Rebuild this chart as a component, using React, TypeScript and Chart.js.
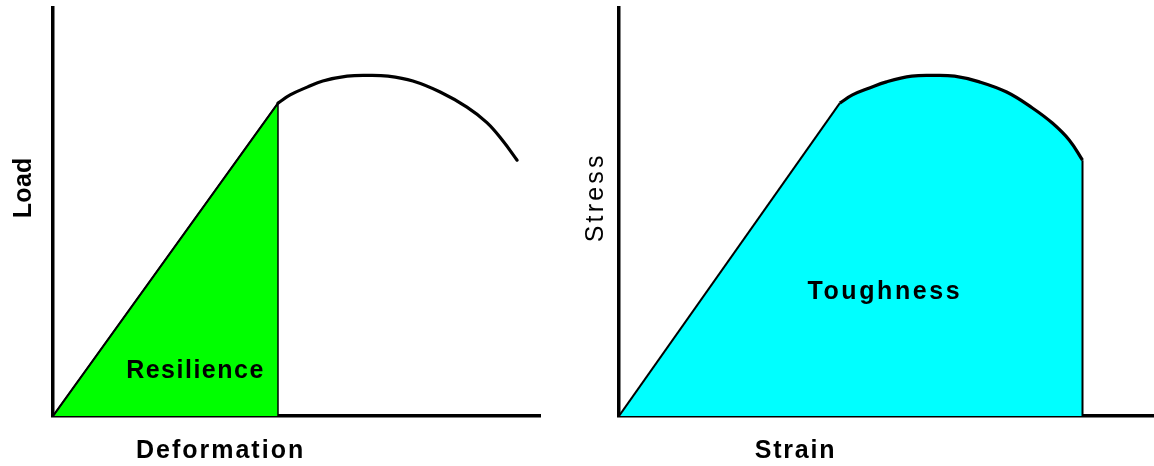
import React, { useEffect, useRef } from "react";
import { Chart, registerables } from "chart.js";

Chart.register(...registerables);

// ---- Data (arbitrary units) ----
// Left panel: load–deformation curve (elastic line up to yield, then plastic arc)
const deformation = [0, 46.2, 48.7, 52.2, 55.4, 60.4, 64.7, 68.8, 73.9, 79.5, 85.0, 89.1, 92.4, 95.3];
const load = [0, 76.7, 78.7, 80.6, 82.1, 83.3, 83.5, 83.3, 82.1, 79.4, 75.7, 71.9, 67.4, 62.7];

// Right panel: stress–strain curve (to fracture)
const strain = [0, 45.4, 48.0, 51.5, 55.0, 60.2, 64.5, 69.0, 74.1, 79.7, 85.0, 89.1, 92.6, 95.3];
const stress = [0, 76.7, 78.7, 80.4, 81.9, 83.3, 83.5, 83.3, 81.9, 79.4, 75.5, 71.8, 67.6, 62.7];

const yieldIndex = 1; // index of the end of the elastic (straight) part

// Axis ranges
const leftXMax = 100;
const rightXMax = 110;
const yMax = 100;

const FONT = '"Liberation Sans", Arial, Helvetica, sans-serif';

type Pt = { x: number; y: number };
const pts = (xs: number[], ys: number[]): Pt[] => xs.map((x, i) => ({ x, y: ys[i] }));

const textPlugin = {
  id: "panelText",
  afterDraw(chart: any, _args: any, opts: any) {
    const { ctx, chartArea, scales } = chart;
    const xs = scales.x;
    const ys = scales.y;
    for (const it of opts.items || []) {
      ctx.save();
      ctx.font = `${it.weight || "bold"} ${it.size || 25}px ${FONT}`;
      ctx.fillStyle = "#000";
      const sp = it.spacing || 0;
      (ctx as any).letterSpacing = `${sp}px`;
      const px = it.dx !== undefined ? chartArea.left + it.dx : xs.getPixelForValue(it.x);
      const py = it.dy !== undefined ? chartArea.bottom + it.dy : ys.getPixelForValue(it.y);
      const w = ctx.measureText(it.text).width - sp;
      ctx.translate(px, py);
      if (it.rotate) ctx.rotate(-Math.PI / 2);
      ctx.textAlign = "left";
      ctx.textBaseline = "alphabetic";
      ctx.fillText(it.text, -w / 2, it.rotate ? it.capShift : 0);
      ctx.restore();
    }
  },
};

function axisScales(xMax: number) {
  const border = { display: true, color: "#000", width: 3.5 };
  return {
    x: {
      type: "linear" as const,
      min: 0,
      max: xMax,
      grid: { display: false, drawTicks: false },
      ticks: { display: false },
      border,
      afterFit: (s: any) => {
        s.height = 0;
      },
    },
    y: {
      type: "linear" as const,
      min: 0,
      max: yMax,
      grid: { display: false, drawTicks: false },
      ticks: { display: false },
      border,
      afterFit: (s: any) => {
        s.width = 0;
      },
    },
  };
}

const lineBase = {
  pointRadius: 0,
  pointHoverRadius: 0,
  borderColor: "#000",
  fill: false,
  tension: 0,
};

export default function App() {
  const leftRef = useRef<HTMLCanvasElement>(null);
  const rightRef = useRef<HTMLCanvasElement>(null);

  useEffect(() => {
    const leftCurve = pts(deformation, load);
    const rightCurve = pts(strain, stress);
    const leftYield = leftCurve[yieldIndex];
    const rightEnd = rightCurve[rightCurve.length - 1];

    const left = new Chart(leftRef.current as HTMLCanvasElement, {
      type: "line",
      data: {
        datasets: [
          {
            ...lineBase,
            label: "Resilience",
            data: [leftCurve[0], leftYield, { x: leftYield.x, y: 0 }],
            fill: "origin",
            backgroundColor: "#00ff00",
            borderWidth: 1.5,
            order: 3,
          },
          {
            ...lineBase,
            label: "Elastic",
            data: leftCurve.slice(0, yieldIndex + 1),
            borderWidth: 2,
            order: 2,
          },
          {
            ...lineBase,
            label: "Load",
            data: leftCurve.slice(yieldIndex),
            borderWidth: 3.2,
            tension: 0.4,
            borderCapStyle: "round",
            borderJoinStyle: "round",
            order: 1,
          },
        ],
      },
      options: {
        responsive: false,
        animation: false,
        events: [],
        layout: { padding: { left: 53, top: 8, right: 37, bottom: 50 } },
        scales: axisScales(leftXMax),
        plugins: {
          legend: { display: false },
          tooltip: { enabled: false },
          panelText: {
            items: [
              { text: "Resilience", x: 29.1, y: 9.3, spacing: 1.5 },
              { text: "Deformation", x: 34.2, dy: 42, spacing: 2 },
              { text: "Load", dx: -31, y: 55.9, rotate: true, capShift: 9, spacing: 0.3 },
            ],
          },
        } as any,
      },
      plugins: [textPlugin],
    });

    const right = new Chart(rightRef.current as HTMLCanvasElement, {
      type: "line",
      data: {
        datasets: [
          {
            ...lineBase,
            label: "Toughness",
            data: [...rightCurve, { x: rightEnd.x, y: 0 }],
            fill: "origin",
            backgroundColor: "#00ffff",
            borderWidth: 0,
            order: 4,
          },
          {
            ...lineBase,
            label: "Elastic",
            data: rightCurve.slice(0, yieldIndex + 1),
            borderWidth: 2,
            order: 3,
          },
          {
            ...lineBase,
            label: "Stress",
            data: rightCurve.slice(yieldIndex),
            borderWidth: 3.2,
            tension: 0.4,
            borderJoinStyle: "round",
            order: 2,
          },
          {
            ...lineBase,
            label: "Fracture",
            data: [rightEnd, { x: rightEnd.x, y: 0 }],
            borderWidth: 2,
            order: 1,
          },
        ],
      },
      options: {
        responsive: false,
        animation: false,
        events: [],
        layout: { padding: { left: 42, top: 8, right: 0, bottom: 50 } },
        scales: axisScales(rightXMax),
        plugins: {
          legend: { display: false },
          tooltip: { enabled: false },
          panelText: {
            items: [
              { text: "Toughness", x: 54.4, y: 28.7, spacing: 2.6 },
              { text: "Strain", x: 36.1, dy: 42, spacing: 1.8 },
              { text: "Stress", dx: -25, y: 53.2, rotate: true, capShift: 9, spacing: 3.2, weight: "normal" },
            ],
          },
        } as any,
      },
      plugins: [textPlugin],
    });

    return () => {
      left.destroy();
      right.destroy();
    };
  }, []);

  return (
    <div style={{ position: "absolute", left: 0, top: 0, width: 1154, height: 466, background: "#fff" }}>
      <canvas ref={leftRef} width={577} height={466} style={{ position: "absolute", left: 0, top: 0 }} />
      <canvas ref={rightRef} width={577} height={466} style={{ position: "absolute", left: 577, top: 0 }} />
    </div>
  );
}
